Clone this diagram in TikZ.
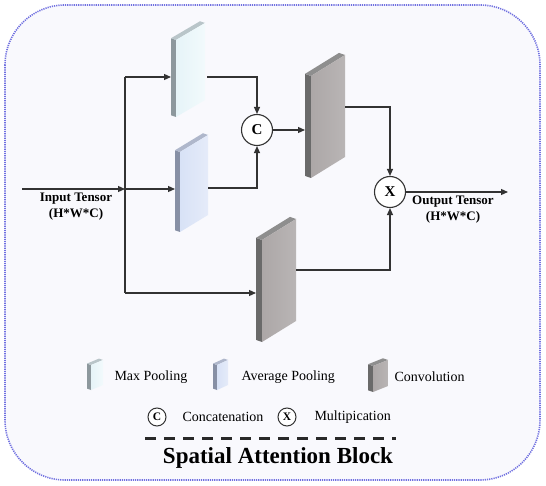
\documentclass[tikz,border=0pt]{standalone}
\usepackage{fontspec}
\setmainfont{Liberation Serif}
\usetikzlibrary{arrows.meta,calc}
\definecolor{linec}{HTML}{333333}
\definecolor{framec}{HTML}{7070E0}
\definecolor{bgc}{HTML}{F9F9FD}
\definecolor{mpFa}{HTML}{E6F4F8}
\definecolor{mpFb}{HTML}{F2FAFC}
\definecolor{mpSc}{HTML}{8D989D}
\definecolor{mpTc}{HTML}{B9C5C9}
\definecolor{apFa}{HTML}{D8E2F6}
\definecolor{apFb}{HTML}{E5EBF9}
\definecolor{apSc}{HTML}{8790A5}
\definecolor{apTc}{HTML}{AFB7CB}
\definecolor{cvFa}{HTML}{ACA7A7}
\definecolor{cvFb}{HTML}{B9B5B5}
\definecolor{cvSc}{HTML}{6A6A6A}
\definecolor{cvTc}{HTML}{8E8E8E}
\tikzset{
  conn/.style={draw=linec,line width=1.2pt},
  arr/.style={conn,-{Triangle[length=7pt,width=6pt]}},
  opcirc/.style={circle,draw=linec,line width=1.1pt,fill=white,minimum size=31pt,inner sep=0pt,font=\fontsize{15}{15}\selectfont\bfseries},
  legcirc/.style={circle,draw=linec,line width=1pt,fill=white,minimum size=18pt,inner sep=0pt,font=\fontsize{11.5}{11.5}\selectfont\bfseries},
  iolabel/.style={align=center,font=\fontsize{13}{16}\selectfont\bfseries},
  legtext/.style={anchor=west,font=\fontsize{14}{16}\selectfont},
  mpF/.style={left color=mpFa,right color=mpFb},
  mpS/.style={fill=mpSc},
  mpT/.style={fill=mpTc},
  apF/.style={left color=apFa,right color=apFb},
  apS/.style={fill=apSc},
  apT/.style={fill=apTc},
  cvF/.style={left color=cvFa,right color=cvFb},
  cvS/.style={fill=cvSc},
  cvT/.style={fill=cvTc},
}
% slab: x y w h skew depth prefix
\newcommand\myslab[7]{%
  \path[#7S] (#1,#2) -- (#1,{#2+#4}) -- ({#1-#6},{#2+#4-0.35*#6}) -- ({#1-#6},{#2-0.35*#6}) -- cycle;
  \path[#7T] (#1,#2) -- ({#1+#3},{#2-#5}) -- ({#1+#3-#6},{#2-#5-0.35*#6}) -- ({#1-#6},{#2-0.35*#6}) -- cycle;
  \path[#7F] (#1,#2) -- ({#1+#3},{#2-#5}) -- ({#1+#3},{#2-#5+#4}) -- (#1,{#2+#4}) -- cycle;
}
\begin{document}
\begin{tikzpicture}[x=1pt,y=-1pt]
\useasboundingbox (0,0) rectangle (546,486);
% frame
\draw[framec,fill=bgc,line width=1.6pt,dash pattern=on 1.2pt off 1pt,rounded corners=60pt] (5,5) rectangle (540,480);

% blocks
\myslab{176}{40}{29}{77}{17}{5}{mp}
\myslab{180}{152}{28}{80}{17}{5}{ap}
\myslab{311}{76}{34}{102}{21}{6}{cv}
\myslab{262}{240}{34}{102}{21}{6}{cv}

% ports
\coordinate (in) at (22,189);
\coordinate (split) at (125,189);
\coordinate (splitT) at (125,77);
\coordinate (splitB) at (125,293);
\coordinate (mpin) at (171,77);
\coordinate (mpout) at (207,77);
\coordinate (apin) at (175,189);
\coordinate (apout) at (208,188);
\coordinate (cvAin) at (305,130);
\coordinate (cvAout) at (345,107);
\coordinate (cvBin) at (256,293);
\coordinate (cvBout) at (296,270);
\coordinate (out) at (508,192);

\node[opcirc] (cat) at (257,130) {C};
\node[opcirc] (mul) at (390,192) {X};

\draw[arr] (in) -- (split);
\draw[arr] (split) -- (apin);
\draw[conn] (splitT) -- (splitB);
\draw[arr] (splitT) -- (mpin);
\draw[arr] (splitB) -- (cvBin);
\draw[arr] (mpout) -| (cat.north);
\draw[arr] (apout) -| (cat.south);
\draw[arr] (cat.east) -- (cvAin);
\draw[arr] (cvAout) -| (mul.north);
\draw[arr] (cvBout) -| (mul.south);
\draw[arr] (mul.east) -- (out);

\node[iolabel] (inlbl) at (76,207) {Input Tensor\\(H*W*C)};
\node[iolabel] (outlbl) at (453,210) {Output Tensor\\(H*W*C)};

% legend
\myslab{91}{365}{12}{25}{5}{4}{mp}
\node[legtext] (lmp) at (111,377) {Max Pooling};
\myslab{217}{365}{11}{25}{5}{4}{ap}
\node[legtext] (lap) at (238,377) {Average Pooling};
\myslab{373}{366}{15}{26}{6}{5}{cv}
\node[legtext] (lcv) at (391,377) {Convolution};

\node[legcirc] (lc) at (157,417) {C};
\node[legtext] (lcat) at (179,417) {Concatenation};
\node[legcirc] (lx) at (287,417) {X};
\node[legtext] (lmul) at (311,417) {Multipication};

\coordinate (dl) at (145,438);
\coordinate (dr) at (396,438);
\draw[linec!80!black,line width=3pt,dash pattern=on 11pt off 8pt] (dl) -- (dr);
\node[font=\fontsize{23}{26}\selectfont\bfseries] (title) at (278,458) {Spatial Attention Block};
\end{tikzpicture}
\end{document}
